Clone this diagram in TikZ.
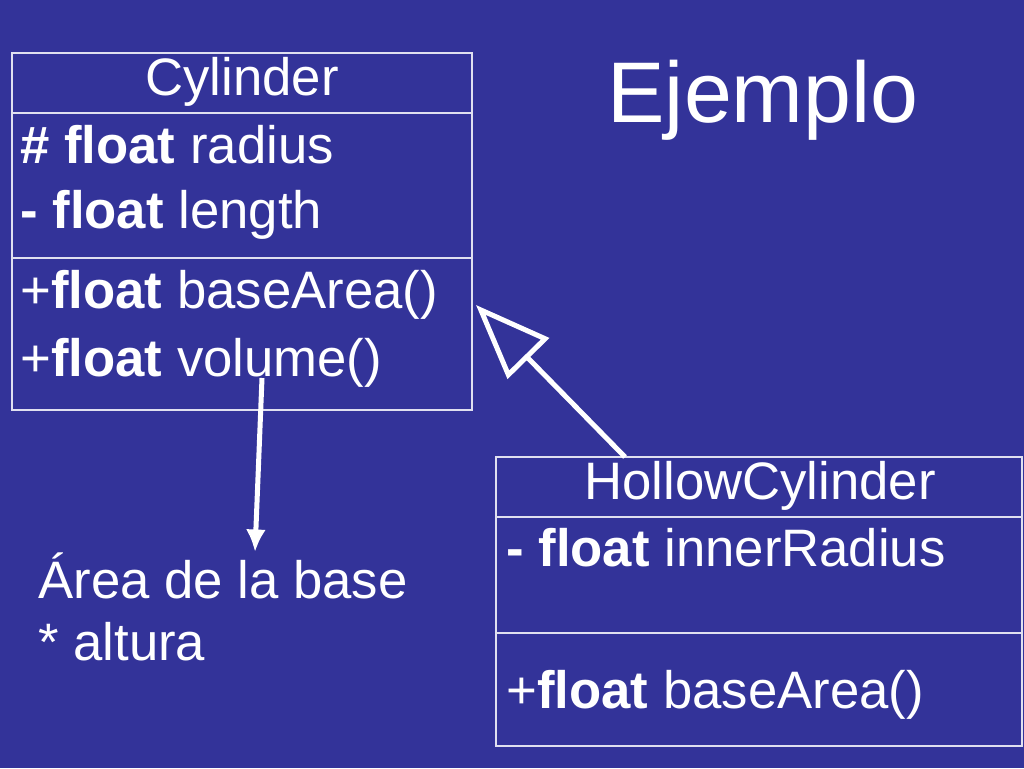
\documentclass[tikz,border=0pt]{standalone}
\usepackage{fontspec}
\setmainfont{Liberation Sans}
\usetikzlibrary{arrows.meta}
\definecolor{slide}{HTML}{333399}
\begin{document}
\begin{tikzpicture}[x=0.02cm,y=-0.02cm,
  umlbox/.style={draw=white!85!slide, line width=0.6pt},
  member/.style={anchor=base west, text=white, inner sep=0pt, font=\fontsize{30}{34}\selectfont},
  title/.style={text=white, inner sep=0pt, font=\fontsize{30}{34}\selectfont},
  link/.style={draw=white, line width=0.1cm}]
\fill[slide] (0,0) rectangle (1024,768);

% Cylinder
\draw[umlbox] (12,53) rectangle (472,410);
\draw[umlbox] (12,113) -- (472,113);
\draw[umlbox] (12,258) -- (472,258);
\node[title] (cyl) at (242,82) {Cylinder};
\node[member] (radius) at (20,163) {\textbf{\# float} radius};
\node[member] (length) at (20,228) {\textbf{- float} length};
\node[member] (area) at (20,308) {+\textbf{float} baseArea()};
\node[member] (volume) at (20,376) {+\textbf{float} volume()};

% HollowCylinder
\draw[umlbox] (496,457) rectangle (1022,746);
\draw[umlbox] (496,517) -- (1022,517);
\draw[umlbox] (496,633) -- (1022,633);
\node[title] (hollow) at (760,486) {HollowCylinder};
\node[member] (inner) at (506,566) {\textbf{- float} innerRadius};
\node[member] (harea) at (506,708) {+\textbf{float} baseArea()};

\node[title, font=\fontsize{49}{56}\selectfont] (title) at (763,100) {Ejemplo};

\node[member] (note1) at (38,598) {Área de la base};
\node[member] (note2) at (38,660) {* altura};

\coordinate (volpt) at (262,378);
\coordinate (notept) at (255,552);
\coordinate (hpt) at (625,457);
\coordinate (cpt) at (476,305);
\draw[link, -{Latex[length=0.45cm,width=0.4cm]}] (volpt) -- (notept);
\draw[link, -{Triangle[open, fill=slide, length=1.5cm, width=1.15cm]}] (hpt) -- (cpt);
\end{tikzpicture}
\end{document}
